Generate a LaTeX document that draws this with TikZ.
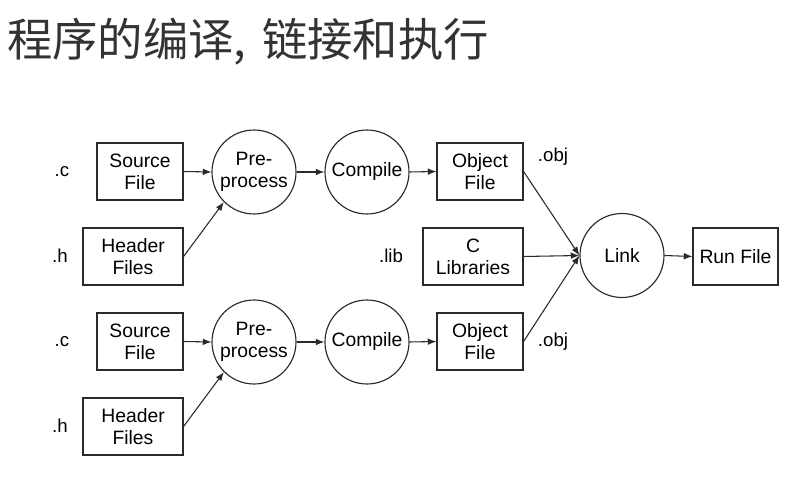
\documentclass[tikz,border=0pt]{standalone}
\usepackage{fontspec}
\setmainfont{Liberation Sans}
\newfontfamily\cjk{Noto Sans CJK SC}
\usetikzlibrary{arrows.meta}
\definecolor{titlecol}{HTML}{333333}
\definecolor{linecol}{HTML}{2A2A2A}
\begin{document}
\begin{tikzpicture}[x=0.75pt,y=-0.75pt,
  txt/.style={font=\fontsize{14.5}{16.5}\selectfont, text=black},
  box/.style={txt, draw=linecol, line width=0.85pt, minimum height=42.75pt, inner sep=0pt, align=center},
  proc/.style={txt, draw=linecol, circle, line width=0.85pt, minimum size=63pt, inner sep=0pt, align=center},
  lbl/.style={font=\fontsize{14}{16}\selectfont, text=black, inner sep=0pt},
  conn/.style={-{Latex[length=6.5pt,width=5pt]}, line width=0.8pt, draw=linecol}]
\useasboundingbox[fill=white] (0,0) rectangle (800,481);

% title
\node[anchor=west, inner sep=0pt, text=titlecol, font=\cjk\fontsize{34}{40}\selectfont] (title) at (7,42) {程序的编译,\hspace{0.12em} 链接和执行};

% top chain
\node[box, minimum width=64.5pt] (src1) at (140,171.5) {Source\\File};
\node[box, minimum width=75pt] (hdr1) at (133,256.5) {Header\\Files};
\node[proc] (pre1) at (254,172) {Pre-\\process};
\node[proc] (cmp1) at (367,172) {Compile};
\node[box, minimum width=64.5pt] (obj1) at (480,171.5) {Object\\File};

% bottom chain
\node[box, minimum width=64.5pt] (src2) at (140,341.5) {Source\\File};
\node[box, minimum width=75pt] (hdr2) at (133,426.5) {Header\\Files};
\node[proc] (pre2) at (254,342) {Pre-\\process};
\node[proc] (cmp2) at (367,342) {Compile};
\node[box, minimum width=64.5pt] (obj2) at (480,341.5) {Object\\File};

% libraries, link, run
\node[box, minimum width=75pt] (lib) at (473,256.5) {C\\Libraries};
\node[proc] (link) at (622,255.5) {Link};
\node[box, minimum width=63.75pt] (run) at (735.5,256.5) {Run File};

% labels
\node[lbl] (lc1) at (62,172) {.c};
\node[lbl] (lh1) at (60,256) {.h};
\node[lbl] (lc2) at (62,342) {.c};
\node[lbl] (lh2) at (60,426) {.h};
\node[lbl] (llib) at (391,256) {.lib};
\node[lbl] (lobj1) at (553,157) {.obj};
\node[lbl] (lobj2) at (553,342) {.obj};

% connectors
\draw[conn] (src1.east) -- (pre1.west);
\draw[conn] (hdr1.east) -- (pre1.south west);
\draw[conn] (pre1.east) -- (cmp1.west);
\draw[conn] (cmp1.east) -- (obj1.west);
\draw[conn] (src2.east) -- (pre2.west);
\draw[conn] (hdr2.east) -- (pre2.south west);
\draw[conn] (pre2.east) -- (cmp2.west);
\draw[conn] (cmp2.east) -- (obj2.west);
\draw[conn] (obj1.east) -- (link.west);
\draw[conn] (obj2.east) -- (link.west);
\draw[conn] (lib.east) -- (link.west);
\draw[conn] (link.east) -- (run.west);
\end{tikzpicture}
\end{document}
